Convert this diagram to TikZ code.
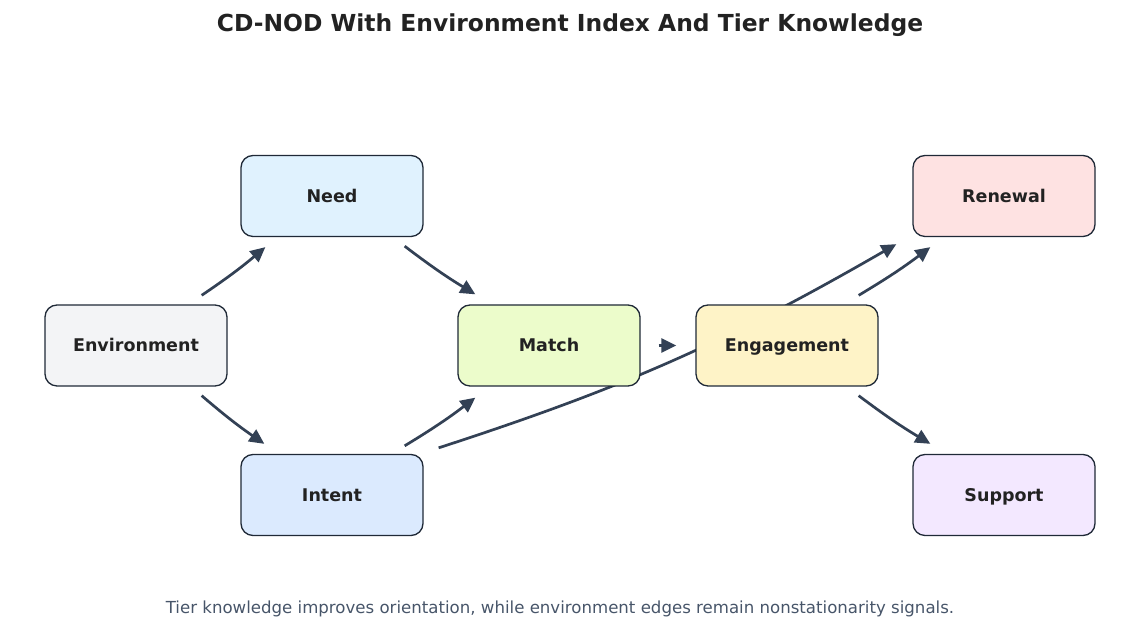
\documentclass[tikz,border=0pt]{standalone}
\usepackage{fontspec}
\setmainfont{DejaVu Sans}
\usetikzlibrary{arrows.meta}
\pgfdeclarelayer{bg}
\pgfsetlayers{bg,main}
\definecolor{edgec}{HTML}{334155}
\definecolor{borderc}{HTML}{1F2937}
\definecolor{textc}{HTML}{222222}
\definecolor{capc}{HTML}{475569}
\definecolor{fenv}{HTML}{F3F4F6}
\definecolor{fneed}{HTML}{E0F2FE}
\definecolor{fintent}{HTML}{DBEAFE}
\definecolor{fmatch}{HTML}{ECFCCB}
\definecolor{feng}{HTML}{FEF3C7}
\definecolor{fren}{HTML}{FEE2E2}
\definecolor{fsup}{HTML}{F3E8FF}
\tikzset{
  box/.style={draw=borderc, line width=1.3pt, rounded corners=12pt,
    minimum width=182pt, minimum height=81pt, inner sep=0pt,
    text height=12.7pt, text depth=0pt,
    font=\bfseries\fontsize{17.5}{20}\selectfont, text=textc},
  edge/.style={draw=edgec, line width=2.7pt,
    -{Triangle[length=15pt,width=14pt]}},
}
\begin{document}
\begin{tikzpicture}[x=1pt,y=1pt]
\useasboundingbox (0,0) rectangle (1140,644);
\node[font=\bfseries\fontsize{23.4}{27}\selectfont, text=textc] (title) at (570,619) {CD-NOD With Environment Index And Tier Knowledge};
\node[font=\fontsize{16.6}{19}\selectfont, text=capc] (cap) at (560,35) {Tier knowledge improves orientation, while environment edges remain nonstationarity signals.};
\node[box, fill=fenv] (env) at (136,298.5) {Environment};
\node[box, fill=fneed] (need) at (332,448) {Need};
\node[box, fill=fintent] (intent) at (332,149) {Intent};
\node[box, fill=fmatch] (match) at (549,298.5) {Match};
\node[box, fill=feng] (eng) at (787,298.5) {Engagement};
\node[box, fill=fren] (ren) at (1004,448) {Renewal};
\node[box, fill=fsup] (sup) at (1004,149) {Support};
\begin{pgfonlayer}{bg}
\draw[edge] ([xshift=-26pt,yshift=9pt]env.north east) to[bend right=3] ([xshift=25pt,yshift=-10pt]need.south west);
\draw[edge] ([xshift=-26pt,yshift=-9pt]env.south east) to[bend right=3] ([xshift=24pt,yshift=10pt]intent.north west);
\draw[edge] ([xshift=-19pt,yshift=-9pt]need.south east) to[bend right=3] ([xshift=18pt,yshift=10pt]match.north west);
\draw[edge] ([xshift=-19pt,yshift=8pt]intent.north east) to[bend right=3] ([xshift=18pt,yshift=-11pt]match.south west);
\draw[edge] ([xshift=18pt]match.east) -- ([xshift=-19pt]eng.west);
\draw[edge] ([xshift=-20pt,yshift=9pt]eng.north east) to[bend right=3] ([xshift=18pt,yshift=-10pt]ren.south west);
\draw[edge] ([xshift=-20pt,yshift=-9pt]eng.south east) to[bend right=3] ([xshift=18pt,yshift=10pt]sup.north west);
\draw[edge] ([xshift=15pt,yshift=6pt]intent.north east) to[bend right=6] ([xshift=-16pt,yshift=-7pt]ren.south west);
\end{pgfonlayer}
\end{tikzpicture}
\end{document}
